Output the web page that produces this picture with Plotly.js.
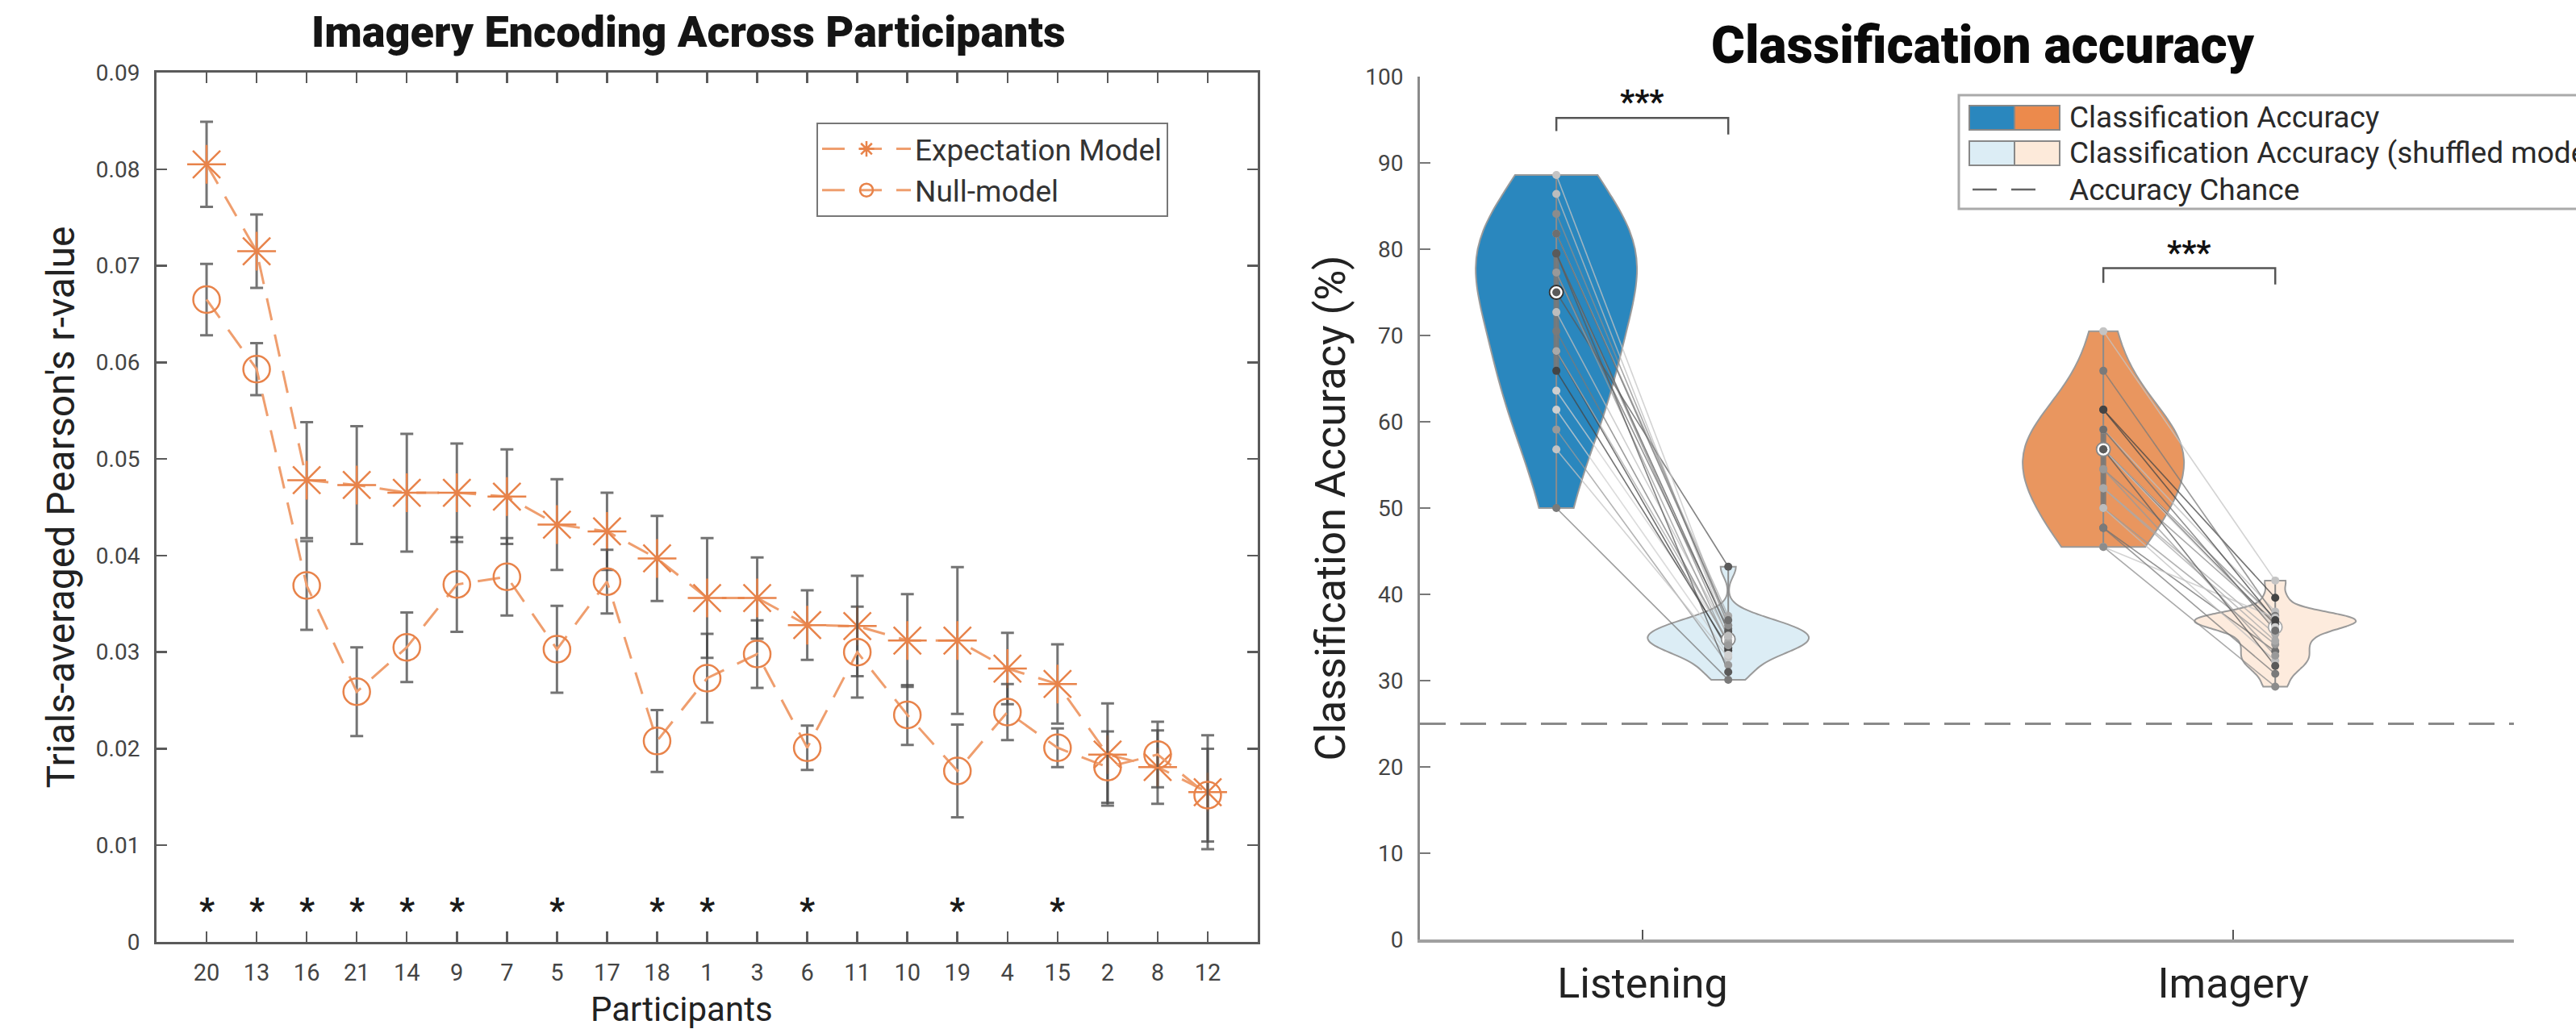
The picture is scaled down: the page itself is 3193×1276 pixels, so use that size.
<!DOCTYPE html>
<html><head><meta charset="utf-8">
<script src="https://cdn.plot.ly/plotly-3.0.1.min.js"></script>
<style>html,body{margin:0;padding:0;background:#fff;overflow:hidden}#chart{width:3193px;height:1276px}</style>
</head><body><div id="chart"></div>
<script>
// ---------------- Left panel data ----------------
const participants = ['20','13','16','21','14','9','7','5','17','18','1','3','6','11','10','19','4','15','2','8','12'];
const expectationR   = [0.0805,0.0715,0.0478,0.0473,0.0465,0.0465,0.0461,0.0432,0.0425,0.0397,0.0356,0.0356,0.0328,0.0327,0.0312,0.0312,0.0283,0.0267,0.0194,0.0181,0.0155];
const expectationErr = [0.0044,0.0038,0.0060,0.0061,0.0061,0.0051,0.0049,0.0047,0.0040,0.0044,0.0062,0.0042,0.0036,0.0052,0.0048,0.0076,0.0037,0.0041,0.0053,0.0038,0.0059];
const nullR          = [0.0665,0.0593,0.0369,0.0259,0.0305,0.0370,0.0378,0.0303,0.0373,0.0208,0.0273,0.0298,0.0201,0.0300,0.0235,0.0177,0.0238,0.0201,0.0181,0.0194,0.0152];
const nullErr        = [0.0037,0.0027,0.0046,0.0046,0.0036,0.0049,0.0040,0.0045,0.0033,0.0032,0.0046,0.0035,0.0023,0.0047,0.0031,0.0048,0.0029,0.0020,0.0037,0.0034,0.0048];
const significantParticipants = ['20','13','16','21','14','9','5','18','1','6','19','15'];
const significanceMarkLevel = 0.004;

// ---------------- Right panel data ----------------
const conditions = ['Listening','Imagery'];
const listeningAcc      = [75.0,88.6,79.5,68.2,81.8,63.6,77.3,86.4,59.1,70.5,79.5,56.8,84.1,65.9,68.2,61.4,81.8,72.7,77.3,50.0,79.5];
const listeningShuffled = [43.2,36.4,35.0,33.5,37.5,34.8,36.0,35.5,31.8,34.3,35.7,32.7,36.4,33.8,34.5,33.0,37.0,35.2,34.1,30.1,31.0];
const imageryAcc        = [56.8,70.5,54.5,61.4,52.3,56.8,47.7,59.1,50.0,65.9,56.8,45.5,45.5,61.4,52.3,56.8,59.1,50.0,54.5,47.7,56.8];
const imageryShuffled   = [37.2,41.6,36.8,39.6,35.4,37.1,33.4,38.0,34.2,37.5,36.5,37.3,29.3,37.0,34.6,36.2,35.8,32.3,32.9,30.8,31.7];
const chanceLevel = 25;
const bracketLevels = [95.2, 77.8];
const bracketLabel = '***';
const legendLabels = ['Classification Accuracy','Classification Accuracy (shuffled model)','Accuracy Chance'];

// ---------------- Styles / geometry ----------------
const W = 3193, H = 1276;
const fx = v => v / W, fy = v => 1 - v / H;
const ORANGE = '#E8834A', ORANGE_LINE = '#EF9E6E';
const ERR_COL = 'rgba(70,70,70,0.75)';
const FONT = 'Roboto, "Noto Sans", sans-serif';
const pos = {listen:0.854, listenShuf:1.145, imag:1.780, imagShuf:2.071};
const violinWidth = 0.273;
const shades = ['#5a5a5a','#c4c4c4','#8c8c8c','#444444','#a9a9a9','#cfcfcf','#6f6f6f','#bdbdbd','#999999','#7a7a7a'];

const traces = [];
const annotations = [];
const shapes = [];

// left panel
traces.push({
  type:'scatter', mode:'lines+markers', name:'Expectation Model', x:participants, y:expectationR,
  xaxis:'x', yaxis:'y',
  line:{color:ORANGE_LINE, width:3, dash:'28px,18px'},
  marker:{symbol:'asterisk-open', size:40, color:ORANGE, line:{color:ORANGE, width:2.5}},
  error_y:{type:'data', array:expectationErr, visible:true, color:ERR_COL, thickness:3, width:8},
  hoverinfo:'skip'
});
traces.push({
  type:'scatter', mode:'lines+markers', name:'Null-model', x:participants, y:nullR,
  xaxis:'x', yaxis:'y',
  line:{color:ORANGE_LINE, width:3, dash:'28px,18px'},
  marker:{symbol:'circle-open', size:33, color:ORANGE, line:{color:ORANGE, width:2.5}},
  error_y:{type:'data', array:nullErr, visible:true, color:ERR_COL, thickness:3, width:8},
  hoverinfo:'skip'
});
significantParticipants.forEach(p=>{
  annotations.push({xref:'x', yref:'y', x:participants.indexOf(p), y:significanceMarkLevel, yanchor:'middle', yshift:-8,
    showarrow:false, text:'*', font:{family:FONT, size:42, color:'#1a1a1a', weight:'bold'}});
});
annotations.push({xref:'paper', yref:'paper', x:fx(845), y:fy(1251), xanchor:'center', yanchor:'middle', showarrow:false,
  text:'Participants', font:{family:FONT, size:42, color:'#222'}});

// right panel violins
function violin(vals, x0, fill, bw){
  return {type:'violin', x0:x0, y:vals, xaxis:'x2', yaxis:'y2', width:violinWidth, scalemode:'width',
    spanmode:'hard', bandwidth:bw, fillcolor:fill, line:{color:'#9a9a9a', width:2}, points:false,
    box:{visible:false}, meanline:{visible:false}, showlegend:false, hoverinfo:'skip', opacity:1};
}
traces.push(violin(listeningAcc, pos.listen, '#2A87BE', 6.5));
traces.push(violin(listeningShuffled, pos.listenShuf, '#DCEDF5', 1.15));
traces.push(violin(imageryAcc, pos.imag, '#E9965F', 5.0));
traces.push(violin(imageryShuffled, pos.imagShuf, '#FDEBDD', 0.85));

function quantile(a, q){const s=[...a].sort((p,r)=>p-r);const i=(s.length-1)*q, lo=Math.floor(i), hi=Math.ceil(i);return s[lo]+(s[hi]-s[lo])*(i-lo);}

// whisker + IQR box (Violinplot style)
function boxGlyph(vals, x, col){
  traces.push({type:'scatter', mode:'lines', x:[x,x], y:[Math.min(...vals), Math.max(...vals)], xaxis:'x2', yaxis:'y2',
    line:{color:'#8c8c8c', width:2}, showlegend:false, hoverinfo:'skip'});
  traces.push({type:'scatter', mode:'lines', x:[x,x], y:[quantile(vals,0.25), quantile(vals,0.75)], xaxis:'x2', yaxis:'y2',
    line:{color:col, width:7}, showlegend:false, hoverinfo:'skip'});
}
boxGlyph(listeningAcc, pos.listen, 'rgba(120,120,120,0.9)');
boxGlyph(listeningShuffled, pos.listenShuf, 'rgba(120,120,120,0.7)');
boxGlyph(imageryAcc, pos.imag, 'rgba(120,120,120,0.9)');
boxGlyph(imageryShuffled, pos.imagShuf, 'rgba(120,120,120,0.7)');

function pairs(accA, accB, xa, xb){
  accA.forEach((v,i)=>{
    traces.push({type:'scatter', mode:'lines', x:[xa,xb], y:[v,accB[i]], xaxis:'x2', yaxis:'y2',
      line:{color:shades[i%shades.length], width:1.6}, opacity:0.75, showlegend:false, hoverinfo:'skip'});
  });
}
pairs(listeningAcc, listeningShuffled, pos.listen, pos.listenShuf);
pairs(imageryAcc, imageryShuffled, pos.imag, pos.imagShuf);

function medianMarker(vals, x, edge){
  traces.push({type:'scatter', mode:'markers', x:[x], y:[quantile(vals,0.5)], xaxis:'x2', yaxis:'y2',
    marker:{size:17, color:'#ffffff', line:{color:edge, width:1.8}}, showlegend:false, hoverinfo:'skip'});
}
function dots(vals, x){
  traces.push({type:'scatter', mode:'markers', x:vals.map(()=>x), y:vals, xaxis:'x2', yaxis:'y2',
    marker:{size:10, color:vals.map((v,i)=>shades[i%shades.length])}, showlegend:false, hoverinfo:'skip'});
}
medianMarker(listeningAcc, pos.listen, '#333');
medianMarker(listeningShuffled, pos.listenShuf, '#888');
medianMarker(imageryAcc, pos.imag, '#888');
medianMarker(imageryShuffled, pos.imagShuf, '#aaa');
dots(listeningAcc, pos.listen); dots(listeningShuffled, pos.listenShuf);
dots(imageryAcc, pos.imag); dots(imageryShuffled, pos.imagShuf);

// significance brackets
const bracketPairs = [[pos.listen,pos.listenShuf,1.5,1.9],[pos.imag,pos.imagShuf,1.7,1.9]];
bracketPairs.forEach((b,i)=>{
  const yb = bracketLevels[i];
  traces.push({type:'scatter', mode:'lines', x:[b[0],b[0],b[1],b[1]], y:[yb-b[2],yb,yb,yb-b[3]],
    xaxis:'x2', yaxis:'y2', line:{color:'#555', width:2.5}, showlegend:false, hoverinfo:'skip'});
  annotations.push({xref:'x2', yref:'y2', x:(b[0]+b[1])/2, y:yb, yanchor:'bottom', yshift:-6, showarrow:false,
    text:bracketLabel, font:{family:FONT, size:40, color:'#111', weight:'bold'}});
});

// titles
annotations.push({xref:'paper', yref:'paper', x:fx(853), y:fy(40), xanchor:'center', yanchor:'middle', showarrow:false,
  text:'Imagery Encoding Across Participants', font:{family:FONT, size:54, color:'#151515', weight:900}});
annotations.push({xref:'paper', yref:'paper', x:fx(2458), y:fy(57), xanchor:'center', yanchor:'middle', showarrow:false,
  text:'Classification accuracy', font:{family:FONT, size:64, color:'#0a0a0a', weight:900}});

// custom right legend (box runs past the right edge, as in the original figure)
const legTop = 118, legBot = 259, legLeft = 2428;
shapes.push({type:'rect', xref:'paper', yref:'paper', x0:fx(legLeft), x1:fx(3260), y0:fy(legBot), y1:fy(legTop),
  line:{color:'#aaaaaa', width:3}, fillcolor:'#ffffff', layer:'above'});
const rowsY = [146, 190, 235];
const swatchCols = [['#2A87BE','#EC8A4C'],['#DCEDF5','#FDEADA']];
swatchCols.forEach((c,i)=>{
  const yc = rowsY[i];
  shapes.push({type:'rect', xref:'paper', yref:'paper', x0:fx(2441), x1:fx(2497), y0:fy(yc+15), y1:fy(yc-15),
    fillcolor:c[0], line:{color:'#888', width:2}, layer:'above'});
  shapes.push({type:'rect', xref:'paper', yref:'paper', x0:fx(2497), x1:fx(2553), y0:fy(yc+15), y1:fy(yc-15),
    fillcolor:c[1], line:{color:'#888', width:2}, layer:'above'});
});
shapes.push({type:'line', xref:'paper', yref:'paper', x0:fx(2445), x1:fx(2530), y0:fy(rowsY[2]), y1:fy(rowsY[2]),
  line:{color:'#666', width:2.5, dash:'30px,18px'}, layer:'above'});
legendLabels.forEach((t,i)=>{
  annotations.push({xref:'paper', yref:'paper', x:fx(2563), y:fy(rowsY[i]), xanchor:'left', yanchor:'middle',
    showarrow:false, text:t, font:{family:FONT, size:37, color:'#2a2a2a'}});
});

// chance line
shapes.push({type:'line', xref:'x2 domain', yref:'y2', x0:0, x1:1, y0:chanceLevel, y1:chanceLevel,
  line:{color:'#8a8a8a', width:3, dash:'32px,18px'}, layer:'below'});

const leftAxisCommon = {showline:true, linecolor:'#5a5a5a', linewidth:3, mirror:'ticks', ticks:'inside',
  ticklen:13, tickwidth:2.5, tickcolor:'#5a5a5a', showgrid:false, zeroline:false,
  tickfont:{family:FONT, size:28, color:'#444'}};

const layout = {
  width:W, height:H, margin:{l:0,r:0,t:0,b:0}, paper_bgcolor:'#fff', plot_bgcolor:'rgba(0,0,0,0)',
  font:{family:FONT, color:'#333'},
  violinmode:'overlay', violingap:0,
  xaxis:Object.assign({}, leftAxisCommon, {domain:[fx(194), fx(1559)], type:'category', range:[-1, 21],
    tickfont:{family:FONT, size:29, color:'#444'}, ticklabelstandoff:10}),
  yaxis:Object.assign({}, leftAxisCommon, {domain:[fy(1168), fy(90)], range:[0, 0.09], dtick:0.01,
    ticklabelstandoff:12,
    title:{text:"Trials-averaged Pearson's r-value", font:{family:FONT, size:48, color:'#222'}, standoff:12}}),
  xaxis2:{domain:[fx(1760), fx(3116)], range:[0.623, 2.475], tickmode:'array', tickvals:[1,2], ticktext:conditions,
    showline:true, linecolor:'#a0a0a0', linewidth:4, ticks:'inside', ticklen:12, tickwidth:2, tickcolor:'#555',
    showgrid:false, zeroline:false, ticklabelstandoff:6, tickfont:{family:FONT, size:52, color:'#222'}, anchor:'y2'},
  yaxis2:{domain:[fy(1165), fy(95)], range:[0, 100], dtick:10, anchor:'x2',
    showline:true, linecolor:'#8a8a8a', linewidth:3, ticks:'inside', ticklen:13, tickwidth:2, tickcolor:'#777',
    showgrid:false, zeroline:false, ticklabelstandoff:12, tickfont:{family:FONT, size:28, color:'#444'},
    title:{text:'Classification Accuracy (%)', font:{family:FONT, size:52, color:'#222'}, standoff:8}},
  legend:{x:fx(1012), y:fy(152), xanchor:'left', yanchor:'top', bgcolor:'#fff', bordercolor:'#777', borderwidth:2,
    font:{family:FONT, size:37, color:'#333'}, itemwidth:110, tracegroupgap:0},
  annotations:annotations, shapes:shapes, showlegend:true
};

Plotly.newPlot('chart', traces, layout, {staticPlot:true, displayModeBar:false});
</script></body></html>
